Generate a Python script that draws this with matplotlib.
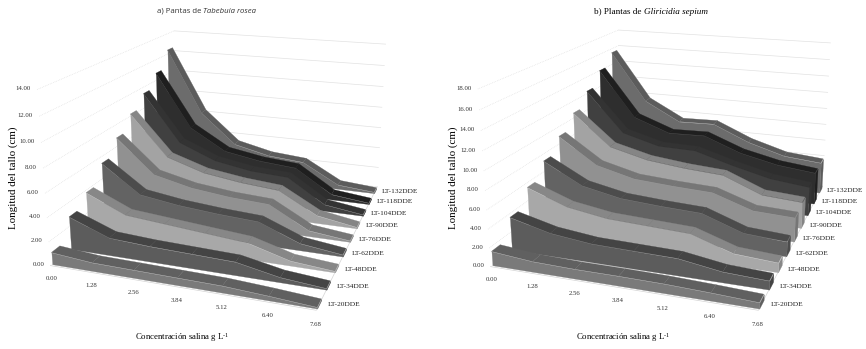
import matplotlib
matplotlib.use("Agg")
import matplotlib.pyplot as plt
from mpl_toolkits.mplot3d.art3d import Poly3DCollection

plt.rcParams["font.family"] = ["Liberation Serif", "DejaVu Serif"]
plt.rcParams["mathtext.fontset"] = "custom"
plt.rcParams["mathtext.rm"] = "Liberation Serif"
plt.rcParams["mathtext.it"] = "Liberation Serif:italic"

salinity = [0.00, 1.28, 2.56, 3.84, 5.12, 6.40, 7.68]
salinity_labels = ["0.00", "1.28", "2.56", "3.84", "5.12", "6.40", "7.68"]
series_names = ["LT-20DDE", "LT-34DDE", "LT-48DDE", "LT-62DDE", "LT-76DDE",
                "LT-90DDE", "LT-104DDE", "LT-118DDE", "LT-132DDE"]

# Tabebuia rosea
rosea = [
    [1.0, 0.7, 0.65, 0.6, 0.55, 0.35, 0.1],
    [2.8, 1.5, 1.3, 1.2, 1.1, 0.4, 0.1],
    [3.8, 2.3, 2.0, 1.7, 1.4, 0.4, 0.1],
    [5.4, 3.0, 2.5, 2.2, 2.0, 0.6, 0.15],
    [6.8, 3.8, 3.0, 2.6, 2.4, 0.5, 0.1],
    [8.2, 4.5, 3.4, 2.9, 2.6, 0.7, 0.1],
    [9.4, 5.0, 3.6, 3.0, 2.8, 0.6, 0.1],
    [10.7, 5.6, 3.6, 3.0, 2.7, 0.5, 0.1],
    [12.4, 6.3, 3.4, 2.6, 2.3, 0.4, 0.1],
]
# Gliricidia sepium
sepium = [
    [1.5, 1.1, 1.0, 1.0, 0.95, 0.8, 0.6],
    [3.6, 2.5, 2.0, 1.9, 1.8, 1.1, 0.9],
    [5.5, 3.9, 3.2, 3.0, 2.8, 1.3, 1.0],
    [7.2, 4.9, 4.0, 3.7, 3.5, 1.9, 1.6],
    [8.9, 6.0, 4.9, 4.6, 4.4, 2.9, 2.7],
    [10.6, 7.0, 5.9, 5.4, 5.1, 3.3, 3.0],
    [12.3, 7.6, 6.4, 6.3, 5.0, 3.9, 3.4],
    [14.0, 8.5, 6.9, 7.0, 5.3, 4.3, 3.8],
    [15.5, 9.6, 7.3, 7.4, 5.5, 4.2, 3.8],
]

front_colors = ["#7a7a7a", "#5c5c5c", "#a8a8a8", "#636363", "#919191",
                "#a3a3a3", "#404040", "#2e2e2e", "#6c6c6c"]
top_colors = ["#606060", "#444444", "#878787", "#4c4c4c", "#767676",
              "#858585", "#333333", "#1f1f1f", "#5c5c5c"]

W_PX, H_PX = 866, 349
fig = plt.figure(figsize=(W_PX / 100, H_PX / 100), dpi=100)


def panel(values, z_max, elev, azim, focal, box, s, tx, ty, label_x, xlabel_x):
    # s, tx, ty place the projected cube on the figure, in pixels
    w = s * 0.185
    left = tx - s * 0.095
    bottom = H_PX + ty - s * 0.095
    ax = fig.add_axes([left / W_PX, bottom / H_PX, w / W_PX, w / H_PX], projection="3d")
    ax.set_proj_type("persp", focal_length=focal)
    ax.view_init(elev=elev, azim=azim)
    ax.set_box_aspect(box)
    ax.set_autoscale_on(False)
    ax.set_xlim(0, 7.68, view_margin=0)
    ax.set_ylim(0, 1, view_margin=0)
    ax.set_zlim(0, z_max, view_margin=0)
    ax.set_axis_off()
    ax.patch.set_alpha(0)
    ax.computed_zorder = False

    x_end = salinity[-1]
    z_ticks = list(range(0, z_max + 1, 2))
    down = 1.1 * z_max / 14

    # walls and floor
    for z in z_ticks:
        ax.plot([0, 0], [0, 1], [z, z], color="#dcdcdc", lw=0.5, ls=(0, (1, 1.5)), zorder=1)
        ax.plot([0, x_end], [1, 1], [z, z], color="#e2e2e2", lw=0.5, zorder=1)
        ax.text(-0.2, 0, z, f"{z:.2f}", fontsize=4.9, color="#333333", ha="right", va="center")
    ax.plot([0, x_end, x_end], [0, 0, 1], [0, 0, 0], color="#d4d4d4", lw=0.5, zorder=1)

    for xv, lab in zip(salinity, salinity_labels):
        ax.text(xv, 0, -down, lab, fontsize=4.9, color="#333333", ha="center", va="center")

    # series from the back to the front, each one an extruded area
    depth = 0.05
    for i in range(len(values) - 1, -1, -1):
        vals = values[i]
        y0 = 0.01 + i * 0.115
        y1 = y0 + depth
        base = 10 + (8 - i) * 5
        tops = [[(salinity[j], y0, vals[j]), (salinity[j + 1], y0, vals[j + 1]),
                 (salinity[j + 1], y1, vals[j + 1]), (salinity[j], y1, vals[j])]
                for j in range(len(salinity) - 1)]
        end = [[(x_end, y0, 0), (x_end, y1, 0), (x_end, y1, vals[-1]), (x_end, y0, vals[-1])]]
        front = [[(0, y0, 0)] + [(xv, y0, v) for xv, v in zip(salinity, vals)] + [(x_end, y0, 0)]]
        for polys, col, dz in ((tops, top_colors[i], 0), (end, top_colors[i], 1), (front, front_colors[i], 2)):
            ax.add_collection3d(Poly3DCollection(polys, facecolors=col, edgecolors=col,
                                                 linewidths=0.2, zorder=base + dz))
        ax.text(x_end + 0.22, y0 + 0.03, 0, series_names[i],
                fontsize=5.3, color="#222222", ha="left", va="center")

    fig.text(label_x / W_PX, 1 - 178 / H_PX, "Longitud del tallo (cm)", rotation=90,
             fontsize=7.9, ha="center", va="center")
    fig.text(xlabel_x / W_PX, 1 - 338 / H_PX, r"Concentración salina g L$^{\text{-1}}$",
             fontsize=6.3, ha="center", va="center")
    return ax


panel(rosea, 14, 18.09, -70.93, 0.368, (0.806, 0.967, 0.537), 2216.2, 232.4, -145.4, 13, 182)
panel(sepium, 18, 17.53, -70.96, 0.374, (0.950, 1.175, 0.632), 2260.6, 675.7, -144.8, 453, 623)

fig.text(203 / W_PX, 1 - 11.5 / H_PX, "a) Pantas de ", family="Open Sans", fontsize=5.6,
         color="#333333", ha="right", va="center")
fig.text(203 / W_PX, 1 - 11.5 / H_PX, "Tabebuia rosea", family="Open Sans", style="italic",
         fontsize=5.6, color="#333333", ha="left", va="center")
fig.text(644 / W_PX, 1 - 11.5 / H_PX, "b) Plantas de ", fontsize=6.6, ha="right", va="center")
fig.text(644 / W_PX, 1 - 11.5 / H_PX, "Gliricidia sepium", style="italic", fontsize=6.6,
         ha="left", va="center")

fig.savefig("out.png", dpi=100)
